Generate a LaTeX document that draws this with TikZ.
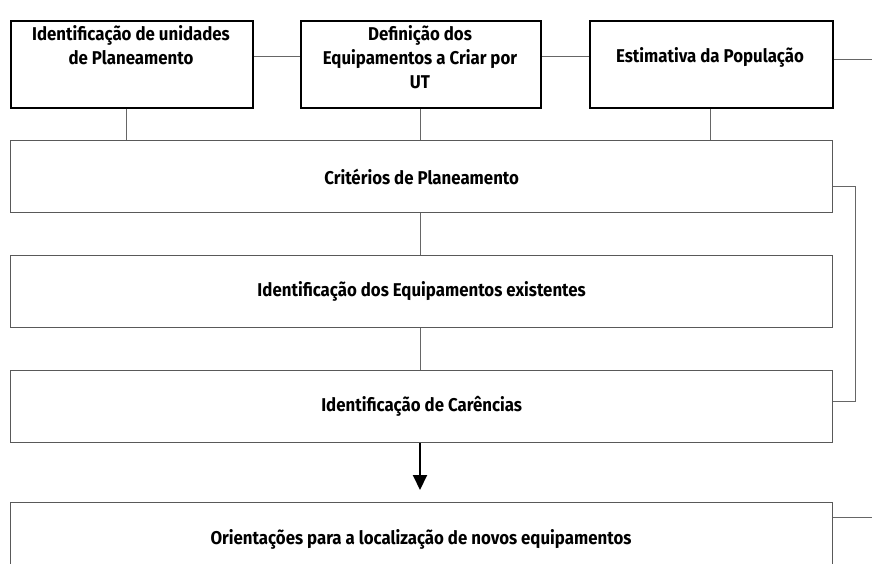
\documentclass[tikz,border=0pt]{standalone}
\usepackage{fontspec}
\setmainfont{Fira Sans}[FakeStretch=0.91]
\usetikzlibrary{arrows.meta}
\begin{document}
\begin{tikzpicture}[x=1pt,y=-1pt,
  txt/.style={align=center,inner sep=0pt,font=\fontsize{18.5}{24}\selectfont\bfseries},
  topbox/.style={draw=black,line width=1.8pt,fill=white},
  rowbox/.style={draw=black!65,line width=1.3pt,fill=white,txt},
  link/.style={draw=black!60,line width=1pt},
  arr/.style={draw=black,line width=2pt,-{Triangle[length=15pt,width=14pt]}}]
\useasboundingbox (0,0) rectangle (872,564);
\clip (0,0) rectangle (872,564);
\node[topbox,minimum width=242pt,minimum height=87pt,anchor=north west] (t1) at (10,20) {};
\node[txt] (l1) at (131,45) {Identificação de unidades\\de Planeamento};
\node[topbox,minimum width=240pt,minimum height=87pt,anchor=north west] (t2) at (300,20) {};
\node[txt] (l2) at (420,57) {Definição dos\\Equipamentos a Criar por\\UT};
\node[topbox,minimum width=243pt,minimum height=87pt,anchor=north west] (t3) at (589,20) {};
\node[txt] (l3) at (710,57) {Estimativa da População};
\node[rowbox,minimum width=822pt,minimum height=72pt,anchor=north west] (c) at (10,140) {Critérios de Planeamento};
\node[rowbox,minimum width=822pt,minimum height=72pt,anchor=north west] (e) at (10,255) {Identificação dos Equipamentos existentes};
\node[rowbox,minimum width=822pt,minimum height=72pt,anchor=north west] (k) at (10,370) {Identificação de Carências};
\node[draw=black!65,line width=1.3pt,fill=white,minimum width=822pt,minimum height=90pt,anchor=north west] (o) at (10,502) {};
\node[txt] (lo) at (421,539) {Orientações para a localização de novos equipamentos};
\coordinate (r1) at (872,60);
\coordinate (r2) at (872,517);
\coordinate (b1) at (855,187);
\coordinate (b2) at (855,401);
\draw[link] (t1.east|-0,57) -- (t2.west|-0,57);
\draw[link] (t2.east|-0,57) -- (t3.west|-0,57);
\draw[link] (t3.east|-r1) -- (r1);
\draw[link] (o.east|-r2) -- (r2);
\draw[link] (t1.south-|126,0) -- (c.north-|126,0);
\draw[link] (t2.south) -- (c.north-|t2.south);
\draw[link] (t3.south-|710,0) -- (c.north-|710,0);
\draw[link] (c.south-|420,0) -- (e.north-|420,0);
\draw[link] (e.south-|420,0) -- (k.north-|420,0);
\draw[link] (c.east|-b1) -- (b1) -- (b2) -- (k.east|-b2);
\draw[arr] (k.south-|420,0) -- (420,490);
\end{tikzpicture}
\end{document}
